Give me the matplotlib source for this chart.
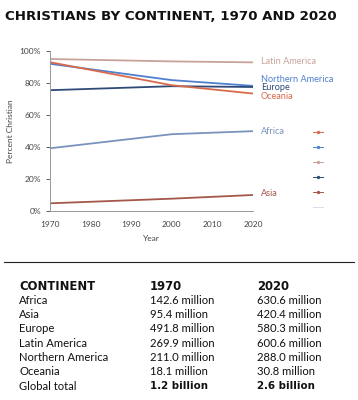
import matplotlib.pyplot as plt
from matplotlib.lines import Line2D

# data
years = [1970, 2000, 2020]
regions = ['Latin America', 'Northern America', 'Europe', 'Oceania', 'Africa', 'Asia']
pct_latin = [95.0, 93.5, 92.9]
pct_north = [92.0, 81.8, 78.2]
pct_europe = [75.5, 78.0, 77.5]
pct_oceania = [93.0, 78.6, 73.4]
pct_africa = [39.2, 48.0, 49.9]
pct_asia = [4.8, 7.7, 10.0]

colors = ['#c7a39a', '#4f7fcf', '#2f4a78', '#d86a4c', '#7a93bd', '#a4584a']
label_y = [93.2, 82.2, 77.0, 71.5, 49.6, 10.8]   # label anchor in data units

table_cols = ['CONTINENT', '1970', '2020']
table_regions = ['Africa', 'Asia', 'Europe', 'Latin America', 'Northern America',
                 'Oceania', 'Global total']
table_1970 = ['142.6 million', '95.4 million', '491.8 million', '269.9 million',
              '211.0 million', '18.1 million', '1.2 billion']
table_2020 = ['630.6 million', '420.4 million', '580.3 million', '600.6 million',
              '288.0 million', '30.8 million', '2.6 billion']

plt.rcParams['font.family'] = ['Lato', 'DejaVu Sans']
BOLD = 'DejaVu Sans'

fig = plt.figure(figsize=(3.58, 4.0), dpi=100)
ax = fig.add_axes([50 / 358, 1 - 211 / 400, 203 / 358, 160 / 400])

series = [pct_latin, pct_north, pct_europe, pct_oceania, pct_africa, pct_asia]
for name, vals, c, ly in zip(regions, series, colors, label_y):
    ax.plot(years, vals, color=c, lw=1.3, solid_capstyle='butt')
    ax.text(2022, ly, name, color=c, fontsize=6.6, va='center', ha='left')

ax.set_xlim(1970, 2020)
ax.set_ylim(0, 100)
ax.set_xticks([1970, 1980, 1990, 2000, 2010, 2020])
ax.set_yticks([0, 20, 40, 60, 80, 100])
ax.set_yticklabels([f'{v}%' for v in range(0, 101, 20)])
ax.tick_params(labelsize=6, colors='#444444', length=3, width=0.6)
ax.tick_params(axis='x', length=0, pad=7)
for s in ['top', 'right']:
    ax.spines[s].set_visible(False)
for s in ['left', 'bottom']:
    ax.spines[s].set_color('#999999')
    ax.spines[s].set_linewidth(0.7)
ax.set_xlabel('Year', fontsize=6, color='#444444', labelpad=5)
ax.set_ylabel('Percent Christian', fontsize=6, color='#444444', labelpad=4)

# small unlabeled key on the right
key_colors = ['#d86a4c', '#4f7fcf', '#c7a39a', '#2f4a78', '#a4584a', '#d9dcef']
handles = [Line2D([], [], color=c, lw=0.7, marker='o' if i < 5 else None, ms=1.4)
           for i, c in enumerate(key_colors)]
fig.legend(handles, [''] * 6, loc='upper left', bbox_to_anchor=(310 / 358, 1 - 126 / 400),
           frameon=False, handlelength=1.1, labelspacing=0.95, handletextpad=0,
           prop={'size': 6}, borderaxespad=0)

# title
fig.text(5 / 358, 1 - 16 / 400, 'CHRISTIANS BY CONTINENT, 1970 AND 2020',
         fontsize=9.6, fontweight='bold', family=BOLD, va='center', ha='left',
         color='#111111')

# rule above table
fig.add_artist(Line2D([4 / 358, 354 / 358], [1 - 262 / 400] * 2, color='#222222', lw=0.8))

# table
col_x = [19 / 358, 150 / 358, 257 / 358]
row0 = 286
step = 14.3
for j, h in enumerate(table_cols):
    fig.text(col_x[j], 1 - row0 / 400, h, fontsize=8.4, fontweight='bold', family=BOLD,
             va='center', ha='left', color='#111111')
for i in range(len(table_regions)):
    y = 1 - (row0 + step * (i + 1)) / 400
    last = i == len(table_regions) - 1
    kw = dict(fontweight='bold', family=BOLD, fontsize=7.4) if last else dict(fontsize=8.1)
    fig.text(col_x[0], y, table_regions[i], fontsize=8.1, va='center', ha='left', color='#111111')
    fig.text(col_x[1], y, table_1970[i], va='center', ha='left', color='#111111', **kw)
    fig.text(col_x[2], y, table_2020[i], va='center', ha='left', color='#111111', **kw)

fig.savefig('out.png', dpi=100)
